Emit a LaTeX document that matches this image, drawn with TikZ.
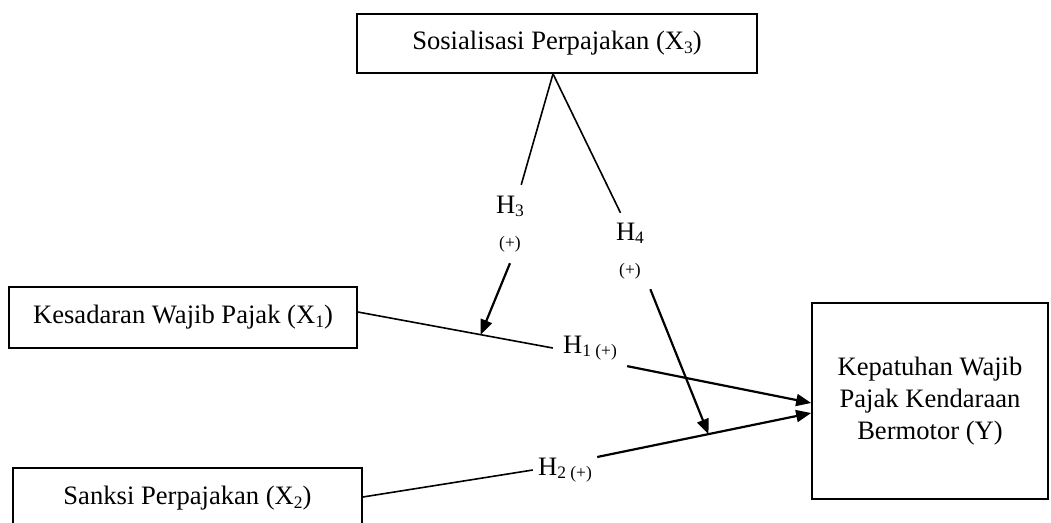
\documentclass[tikz,border=0pt]{standalone}
\usepackage{fontspec}
\setmainfont{Liberation Serif}
\usepackage{tikz}
\usetikzlibrary{arrows.meta}
\newcommand{\lowsub}[1]{\raisebox{-3.5pt}{\fontsize{17.5}{17.5}\selectfont #1}}
\newcommand{\plussign}{{\fontsize{17.5}{17.5}\selectfont (+)}}

\begin{document}
\begin{tikzpicture}[x=1pt, y=-1pt,
	font=\fontsize{26.6}{31.7}\selectfont,
	block/.style={draw=black, line width=1.7pt, align=center, inner sep=0pt},
	hyp/.style={inner sep=0pt, align=center},
	link/.style={line width=1.6pt},
	arr/.style={-{Triangle[length=15pt,width=12pt]}, line width=2.2pt}
	]
	\useasboundingbox (0,0) rectangle (1051,522);
	\node[block, minimum width=400pt, minimum height=59pt] (x3) at (557,43.5) {Sosialisasi Perpajakan (X\lowsub{3})};
	\node[block, minimum width=348pt, minimum height=61pt] (x1) at (183,317.5) {Kesadaran Wajib Pajak (X\lowsub{1})};
	\node[block, minimum width=349pt, minimum height=61pt] (x2) at (187.5,498.5) {Sanksi Perpajakan (X\lowsub{2})};
	\node[block, minimum width=236pt, minimum height=196pt] (y) at (930,401) {Kepatuhan Wajib\\Pajak Kendaraan\\Bermotor (Y)};
	\node[hyp, minimum width=74pt, minimum height=40pt] (h1) at (590,348) {H\lowsub{1 (+)}};
	\node[hyp, minimum width=64pt, minimum height=34pt] (h2) at (565,470) {H\lowsub{2 (+)}};
	\node[hyp, minimum width=30pt, minimum height=78pt] (h3) at (510,224) {H\lowsub{3}\\[3.8pt]\plussign};
	\node[hyp, minimum width=44pt, minimum height=76pt] (h4) at (630,251) {H\lowsub{4}\\[3.8pt]\plussign};
	\coordinate (apex) at ([xshift=-4pt]x3.south);
	\draw[link] (apex) -- (h3);
	\draw[link] (apex) -- (h4.104);
	\draw[link] ([yshift=5.5pt]x1.east) -- coordinate[pos=0.63] (m1) (h1.west);
	\draw[arr] (h1.-26) -- ([yshift=-2pt]y.west);
	\draw[link] ([yshift=1.5pt]x2.east) -- (h2.west);
	\draw[arr] (h2.22) -- coordinate[pos=0.52] (m2) ([yshift=-12pt]y.west);
	\draw[arr] (h3.south) -- (m1);
	\draw[arr] (h4.-62) -- (m2);
\end{tikzpicture}
\end{document}
